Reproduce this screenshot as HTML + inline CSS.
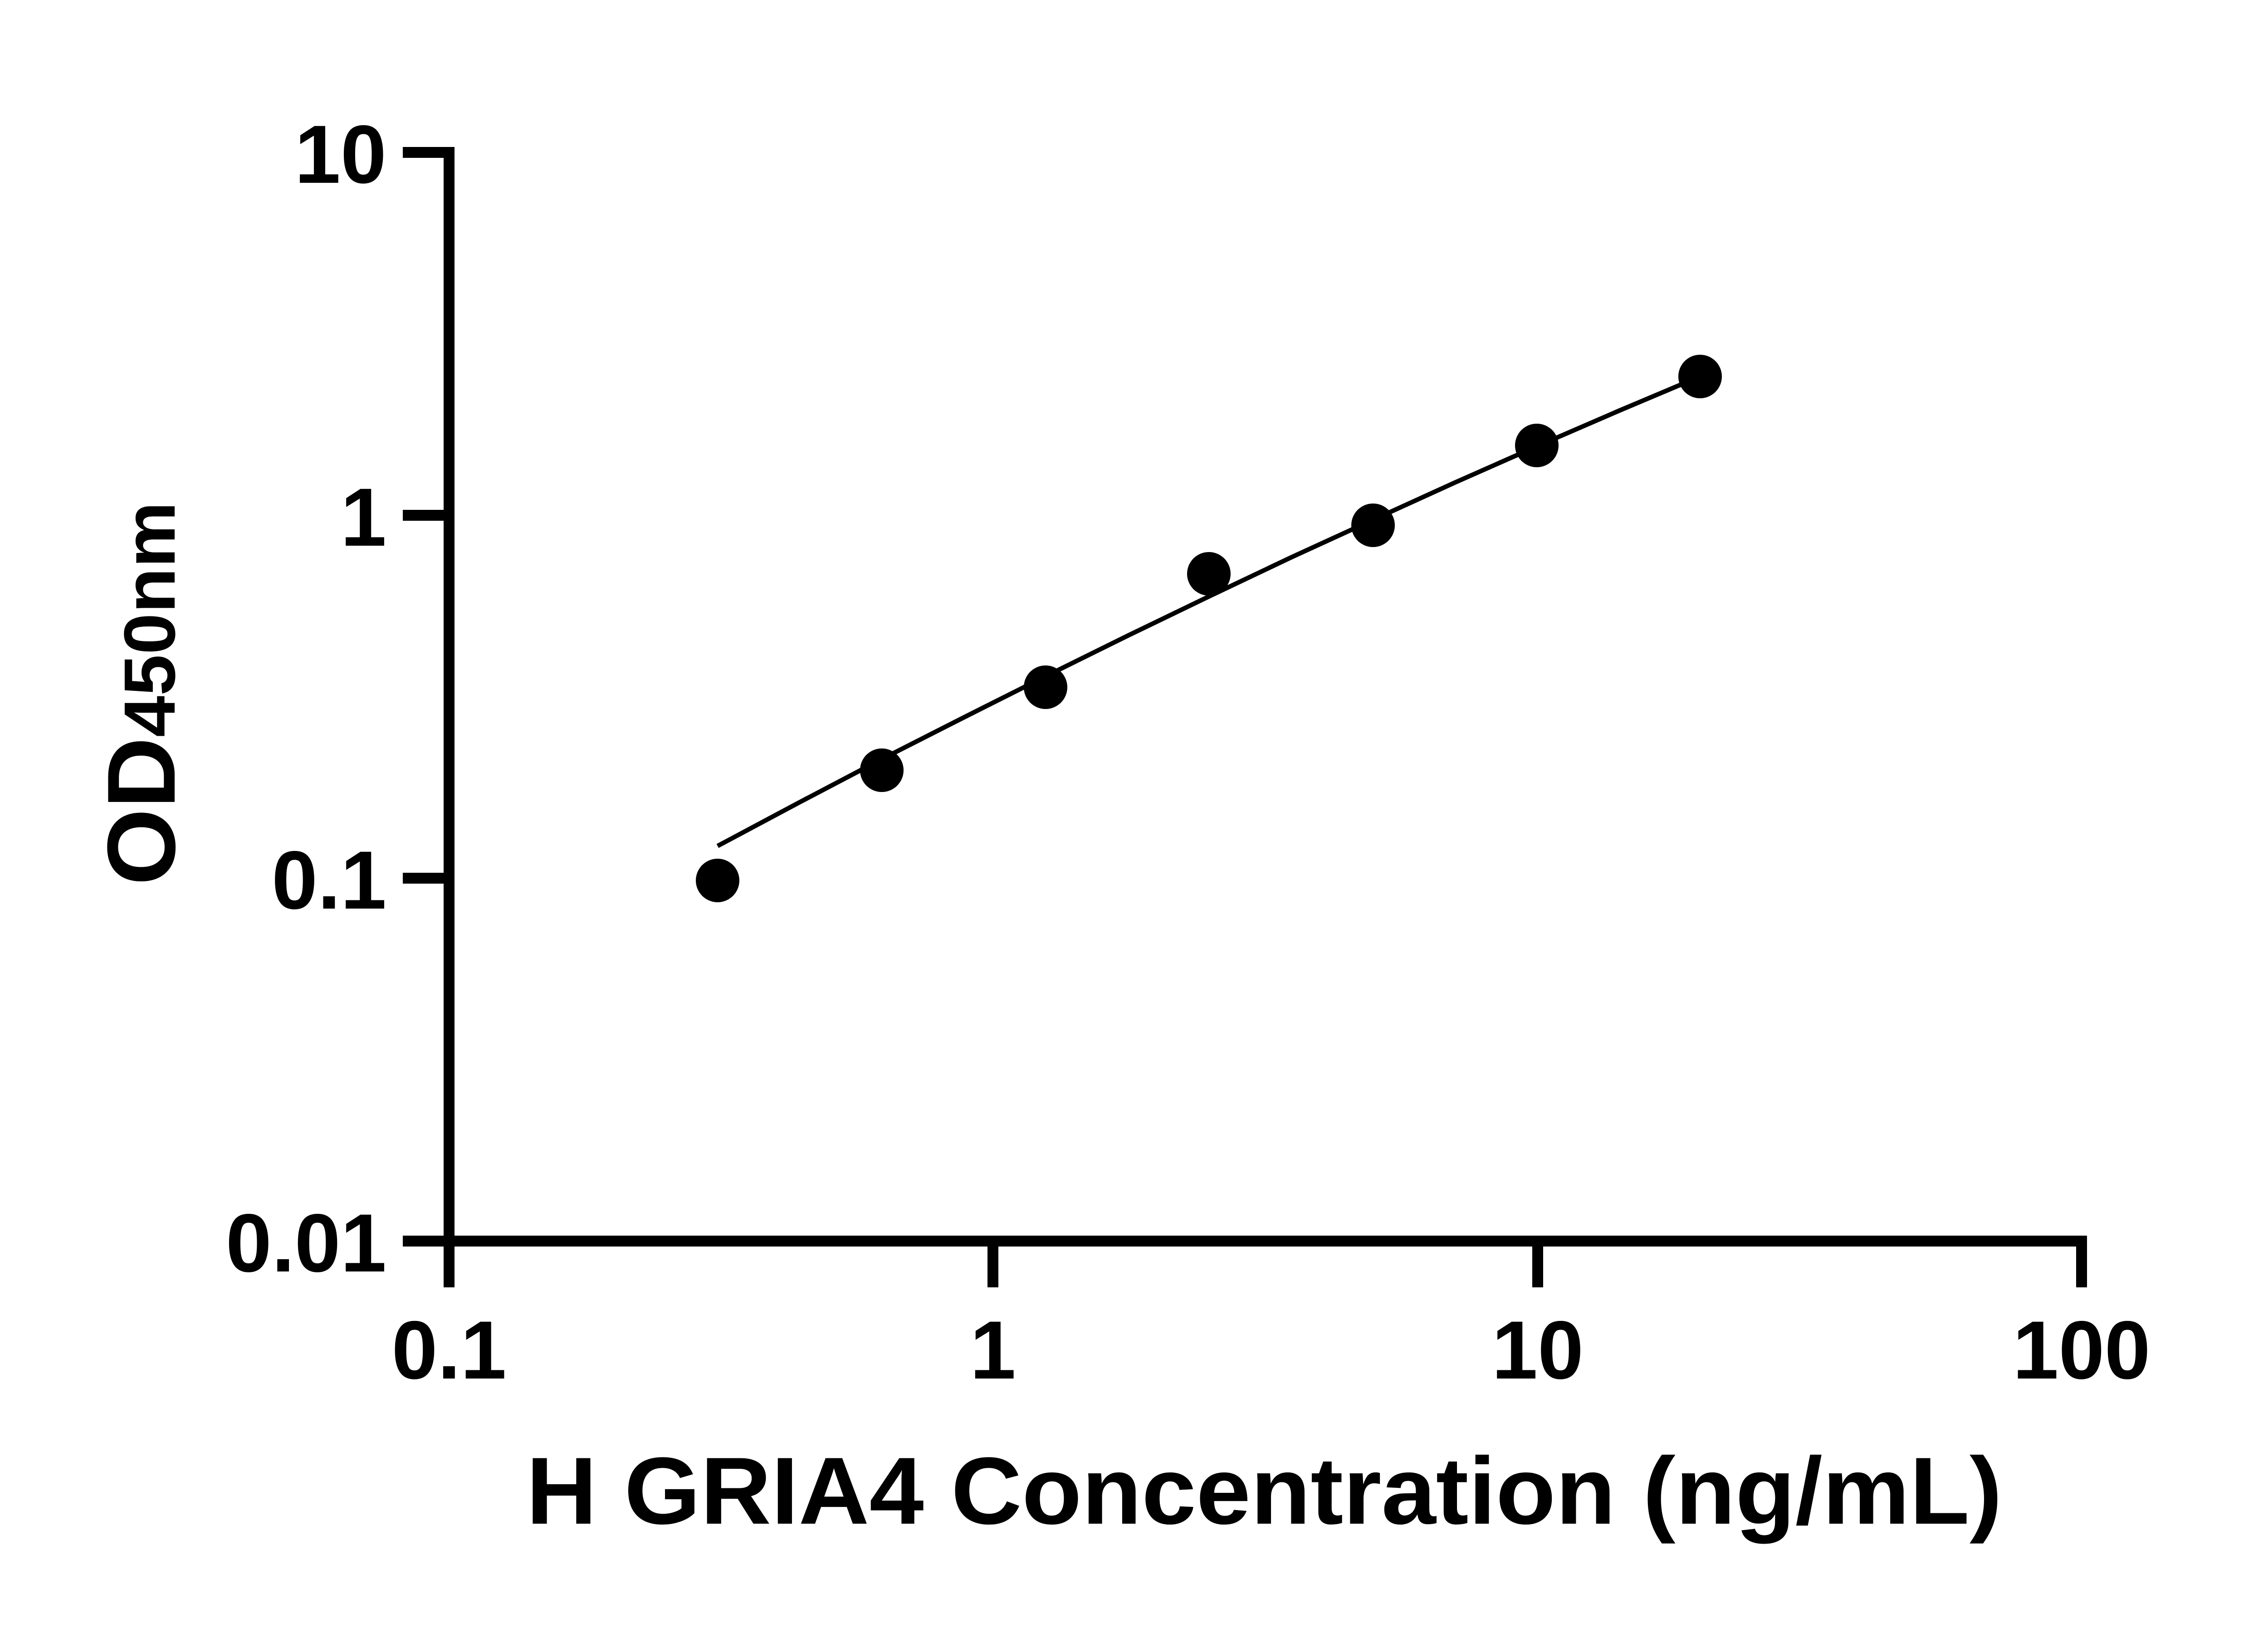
<!DOCTYPE html>
<html><head><meta charset="utf-8"><style>html,body{margin:0;padding:0;background:#fff}svg{display:block}</style></head>
<body>
<svg width="5142" height="3600" viewBox="0 0 5142 3600" xmlns="http://www.w3.org/2000/svg" font-family="Liberation Sans, Arial, sans-serif" font-weight="bold">
<rect width="5142" height="3600" fill="#fff"/>
<g stroke="#000" stroke-width="24" fill="none">
<line x1="990" y1="324" x2="990" y2="2748"/>
<line x1="978" y1="2736" x2="4601" y2="2736"/>
<line x1="888" y1="336" x2="990" y2="336"/>
<line x1="888" y1="1136" x2="990" y2="1136"/>
<line x1="888" y1="1936" x2="990" y2="1936"/>
<line x1="888" y1="2736" x2="990" y2="2736"/>
<line x1="990" y1="2736" x2="990" y2="2838"/>
<line x1="2189" y1="2736" x2="2189" y2="2838"/>
<line x1="3390" y1="2736" x2="3390" y2="2838"/>
<line x1="4589" y1="2724" x2="4589" y2="2838"/>
</g>
<g font-size="182" text-anchor="end" fill="#000">
<text x="852" y="403">10</text>
<text x="852" y="1203">1</text>
<text x="852" y="2003">0.1</text>
<text x="852" y="2803">0.01</text>
</g>
<g font-size="182" text-anchor="middle" fill="#000">
<text x="990" y="3039">0.1</text>
<text x="2189" y="3039">1</text>
<text x="3390" y="3039">10</text>
<text x="4589" y="3039">100</text>
</g>
<text x="1160" y="3359" font-size="210" textLength="3254" lengthAdjust="spacingAndGlyphs" fill="#000">H GRIA4 Concentration (ng/mL)</text>
<text transform="translate(385,1952) rotate(-90)" fill="#000" textLength="846" lengthAdjust="spacingAndGlyphs"><tspan font-size="213">OD</tspan><tspan font-size="160">450nm</tspan></text>
<polyline fill="none" stroke="#000" stroke-width="10" stroke-linejoin="round" points="1582,1865 1762,1769 1943,1674 2124,1582 2305,1491 2485,1402 2665,1315 2846,1229 3027,1146 3207,1064 3388,984 3568,906 3748,830"/>
<g fill="#000">
<circle cx="1582" cy="1941" r="48"/>
<circle cx="1944" cy="1698" r="48"/>
<circle cx="2305" cy="1515" r="48"/>
<circle cx="2665" cy="1265" r="48"/>
<circle cx="3027" cy="1158" r="48"/>
<circle cx="3388" cy="982" r="48"/>
<circle cx="3748" cy="830" r="48"/>
</g>
</svg>
</body></html>
